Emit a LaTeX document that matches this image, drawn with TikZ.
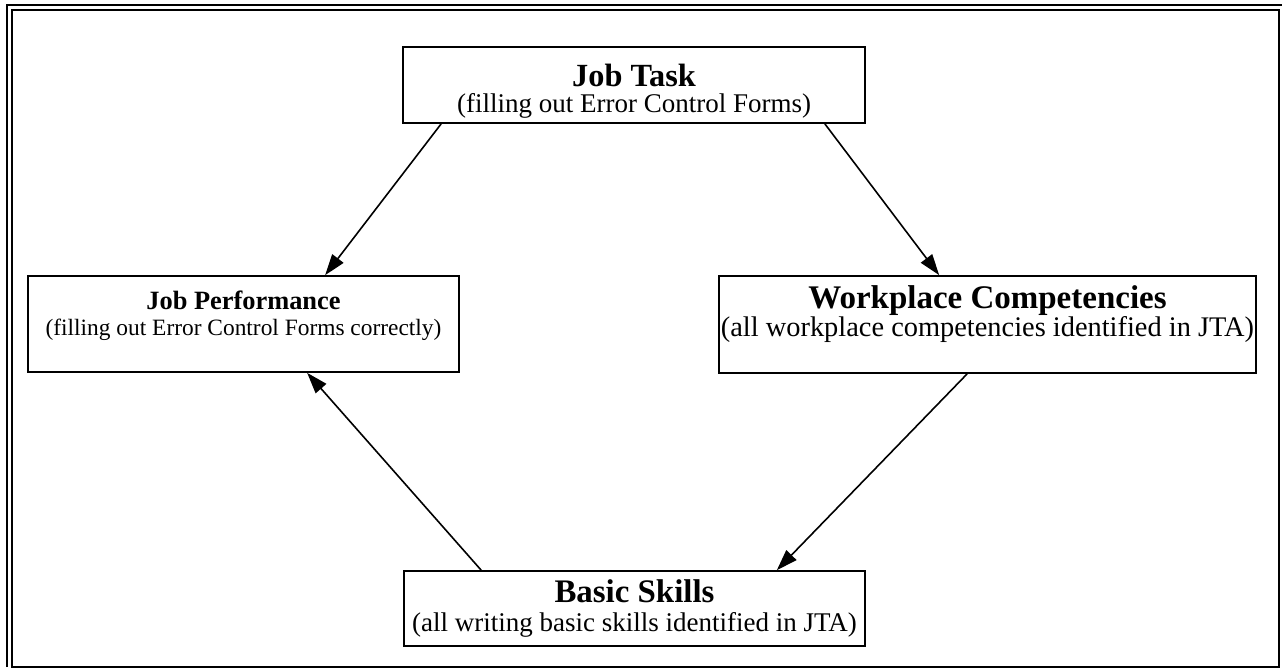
\documentclass[tikz,border=0pt]{standalone}
\usepackage{fontspec}
\setmainfont{Liberation Serif}
\usetikzlibrary{arrows.meta}

\newcommand{\boxtitle}[2]{{\fontsize{#1}{#1}\selectfont\bfseries #2}}

\begin{document}
\begin{tikzpicture}[x=1pt, y=-1pt,
    box/.style={draw, line width=1.7pt, align=center, inner sep=0pt},
    conn/.style={line width=1.6pt, -{Triangle[length=21pt, width=14pt]}}]
    \useasboundingbox (0,0) rectangle (1282,668);

    % Frame
    \draw[line width=1.8pt] (12,10) rectangle (1279,667);
    \draw[line width=1.4pt] (7,667) -- (7,5) -- (1282,5);

    % Boxes (text depth/height put the last line's baseline)
    \node[box, minimum width=462pt, text height=66pt, text depth=10pt,
        font=\fontsize{27}{26}\selectfont] (task) at (634,85)
        {\boxtitle{32.3}{Job Task}\\(filling out Error Control Forms)};
    \node[box, minimum width=431pt, text height=59pt, text depth=37pt,
        font=\fontsize{23.4}{26}\selectfont] (perf) at (243.5,324)
        {\boxtitle{26.4}{Job Performance}\\(filling out Error Control Forms correctly)};
    \node[box, minimum width=537pt, text height=60.5pt, text depth=36.5pt,
        font=\fontsize{28.4}{26}\selectfont] (work) at (987.5,324.5)
        {\boxtitle{33}{Workplace Competencies}\\(all workplace competencies identified in JTA)};
    \node[box, minimum width=461pt, text height=60pt, text depth=15pt,
        font=\fontsize{27}{29}\selectfont] (basic) at (634.5,608.5)
        {\boxtitle{32.9}{Basic Skills}\\(all writing basic skills identified in JTA)};

    % Arrows
    \draw[conn] ([xshift=39pt]task.south west) -- ([xshift=298pt]perf.north west);
    \draw[conn] ([xshift=-41pt]task.south east) -- ([xshift=221pt]work.north west);
    \draw[conn] ([xshift=249pt]work.south west) -- ([xshift=-89pt]basic.north east);
    \draw[conn] ([xshift=78pt]basic.north west) -- ([xshift=280pt]perf.south west);
\end{tikzpicture}
\end{document}
